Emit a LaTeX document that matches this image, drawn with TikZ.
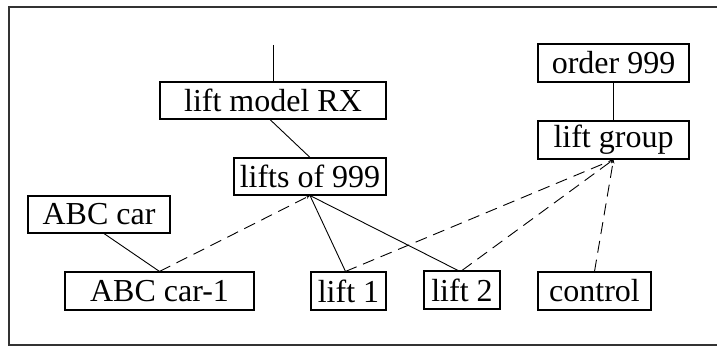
\documentclass[tikz,border=0pt]{standalone}
\usepackage{fontspec}
\setmainfont{Liberation Serif}
\usetikzlibrary{arrows.meta}
\begin{document}
\begin{tikzpicture}[x=1pt,y=-1pt,
  box/.style={draw,line width=1.1pt,inner sep=0pt,font=\fontsize{32}{36}\selectfont},
  solidlink/.style={line width=0.9pt},
  dashlink/.style={line width=0.9pt,dash pattern=on 12pt off 7pt,-{Stealth[length=4pt,width=3pt]}}]
\useasboundingbox (0,0) rectangle (717,347);
\begin{scope}
\clip (0,0) rectangle (717,347);
\draw[line width=1.4pt,black!80] (9,7) rectangle (740,345);
\end{scope}
\node[box,minimum width=226pt,minimum height=37pt] (lmrx) at (273,100.5) {lift model RX};
\node[box,minimum width=151pt,minimum height=38pt] (order) at (613.5,63) {order 999};
\node[box,minimum width=151pt,minimum height=38pt] (group) at (613.5,140) {lift group};
\node[box,minimum width=152pt,minimum height=37pt] (lifts) at (310,176.5) {lifts of 999};
\node[box,minimum width=142pt,minimum height=37pt] (abccar) at (99,214.5) {ABC car};
\node[box,minimum width=189pt,minimum height=38pt] (abccar1) at (159.5,291) {ABC car-1};
\node[box,minimum width=75pt,minimum height=38pt] (lift1) at (348.5,291) {lift 1};
\node[box,minimum width=76pt,minimum height=38pt] (lift2) at (462,290) {lift 2};
\node[box,minimum width=113pt,minimum height=38pt] (control) at (594.5,291) {control};
\coordinate (top) at (273,45);
\draw[solidlink] (top) -- (lmrx.north);
\draw[solidlink] ([xshift=-3pt]lmrx.south) -- (lifts.north);
\draw[solidlink] (order.south) -- (group.north);
\draw[solidlink] ([xshift=5pt]abccar.south) -- (abccar1.north);
\draw[solidlink] (lifts.south) -- ([xshift=-3pt]lift1.north);
\draw[solidlink] (lifts.south) -- ([xshift=-4pt]lift2.north);
\draw[dashlink] (abccar1.north) -- (lifts.south);
\draw[dashlink] ([xshift=-3pt]lift1.north) -- (group.south);
\draw[dashlink] (lift2.north) -- (group.south);
\draw[dashlink] (control.north) -- (group.south);
\end{tikzpicture}
\end{document}
